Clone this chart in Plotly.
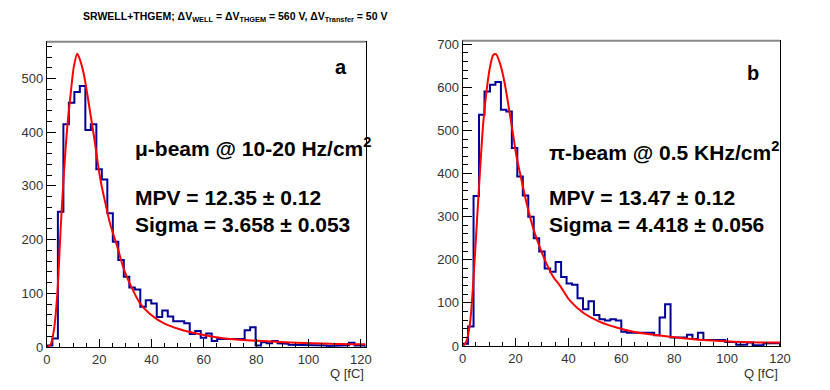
import numpy as np
import plotly.graph_objects as go

# ---------------- data ----------------
# Left panel (mu-beam): 58 bins of width 2.1 fC starting at 0
left_bin_width = 2.1
left_counts = [3, 16, 252, 415, 455, 475, 486, 404, 415, 331,
               312, 249, 196, 162, 131, 111, 107, 75, 87, 81,
               56, 68, 57, 48, 48, 44, 24, 30, 17, 25,
               11, 15, 15, 15, 15, 15, 31, 37, 3, 9,
               7, 11, 7, 6, 4, 4, 3, 4, 3, 3,
               3, 2, 3, 2, 3, 8, 3, 3]
left_fit_q = [0.3, 1.5, 2.7, 4.0, 5.3, 6.5, 7.8, 9.1, 10.3, 11.6, 12.9, 14.2, 15.4,
              16.7, 18.0, 19.3, 20.5, 21.8, 24.3, 26.9, 29.4, 32.0, 35.5, 39.3,
              44.4, 50.8, 57.2, 63.5, 69.9, 82.6, 95.3, 108.0, 121.8]
left_fit_v = [0, 5, 32, 100, 224, 323, 410, 472, 522, 546, 531, 506, 472,
              432, 392, 348, 311, 280, 227, 187, 145, 115, 82, 62,
              45, 33, 25, 19, 15, 11, 8, 6, 5]

# Right panel (pi-beam): 58 bins over 0-120 fC
right_bin_width = 120 / 58
right_counts = [5, 45, 348, 536, 590, 606, 612, 548, 544, 459,
                393, 349, 300, 250, 219, 180, 172, 195, 160, 145,
                142, 111, 85, 104, 72, 62, 59, 62, 59, 33,
                31, 31, 31, 31, 31, 25, 66, 97, 20, 20,
                20, 26, 16, 31, 14, 14, 14, 14, 9, 9,
                3, 3, 8, 2, 2, 6, 6, 7]
right_fit_q = [0.3, 1.5, 2.8, 4.0, 5.3, 6.6, 7.8, 9.1, 10.4, 11.6, 12.6, 14.1, 15.4,
               16.7, 17.9, 19.2, 20.4, 21.7, 24.2, 26.7, 29.3, 31.8, 34.3, 36.8,
               40.6, 45.6, 51.9, 58.2, 64.5, 70.8, 83.4, 96.0, 108.6, 120.0]
right_fit_v = [0, 12, 53, 145, 277, 408, 517, 594, 648, 675, 677, 656, 625,
               582, 536, 486, 439, 401, 331, 273, 227, 190, 160, 140,
               105, 77, 56, 43, 33, 27, 18, 12, 8.5, 8]

title_text = ("<b>SRWELL+THGEM; ΔV<sub>WELL</sub> = ΔV<sub>THGEM</sub> = 560 V, "
              "ΔV<sub>Transfer</sub> = 50 V</b>")
left_labels = ["<b>μ-beam @ 10-20 Hz/cm<sup>2</sup></b>",
               "<b>MPV = 12.35 ± 0.12</b>",
               "<b>Sigma = 3.658 ± 0.053</b>"]
right_labels = ["<b>π-beam @ 0.5 KHz/cm<sup>2</sup></b>",
                "<b>MPV = 13.47 ± 0.12</b>",
                "<b>Sigma = 4.418 ± 0.056</b>"]
x_title = "Q [fC]"

# ---------------- figure ----------------
W, H = 830, 390
FONT = "Liberation Sans, Arial, Helvetica, sans-serif"
HIST_COLOR = "#000099"
FIT_COLOR = "#ff0000"


def step_xy(counts, width):
    n = len(counts)
    edges = np.arange(n + 1) * width
    xs = [edges[0]]
    ys = [0]
    for i, c in enumerate(counts):
        xs += [edges[i], edges[i + 1]]
        ys += [c, c]
    xs.append(edges[-1])
    ys.append(0)
    return xs, ys


fig = go.Figure()

lx, ly = step_xy(left_counts, left_bin_width)
rx, ry = step_xy(right_counts, right_bin_width)

fig.add_trace(go.Scatter(x=lx, y=ly, mode="lines", line=dict(color=HIST_COLOR, width=2),
                         xaxis="x", yaxis="y", hoverinfo="skip"))
fig.add_trace(go.Scatter(x=left_fit_q, y=left_fit_v, mode="lines",
                         line=dict(color=FIT_COLOR, width=2, shape="spline", smoothing=0.8),
                         xaxis="x", yaxis="y", hoverinfo="skip"))
fig.add_trace(go.Scatter(x=rx, y=ry, mode="lines", line=dict(color=HIST_COLOR, width=2),
                         xaxis="x2", yaxis="y2", hoverinfo="skip"))
fig.add_trace(go.Scatter(x=right_fit_q, y=right_fit_v, mode="lines",
                         line=dict(color=FIT_COLOR, width=2, shape="spline", smoothing=0.8),
                         xaxis="x2", yaxis="y2", hoverinfo="skip"))


def px2paper(px, py):
    return px / W, 1 - py / H


L_x0, L_x1, L_yb, L_yt = 46.9, 365.5, 347.0, 41.7
R_x0, R_x1, R_yb, R_yt = 462.6, 780.0, 346.0, 40.7

axis_common = dict(showgrid=False, zeroline=False, showline=True, linecolor="black",
                   linewidth=1, mirror=True, ticks="inside", tickcolor="black",
                   automargin=False,
                   tickfont=dict(family=FONT, size=13, color="#333333"))

fig.update_layout(
    width=W, height=H, margin=dict(l=0, r=0, t=0, b=0, autoexpand=False),
    paper_bgcolor="white", plot_bgcolor="white", showlegend=False,
    font=dict(family=FONT),
    xaxis=dict(domain=[L_x0 / W, L_x1 / W], range=[0, left_bin_width * len(left_counts)],
               anchor="y", tickvals=[0, 20, 40, 60, 80, 100, 120], ticklen=8,
               minor=dict(dtick=5, tick0=0, ticks="inside", ticklen=4, tickcolor="black"),
               **axis_common),
    yaxis=dict(domain=[1 - L_yb / H, 1 - L_yt / H], range=[0, 568.5], anchor="x",
               dtick=100, ticklen=9,
               minor=dict(dtick=20, tick0=0, ticks="inside", ticklen=5, tickcolor="black"),
               **axis_common),
    xaxis2=dict(domain=[R_x0 / W, R_x1 / W], range=[0, 120], anchor="y2",
                tickvals=[0, 20, 40, 60, 80, 100, 120], ticklen=8,
                minor=dict(dtick=5, tick0=0, ticks="inside", ticklen=4, tickcolor="black"),
                **axis_common),
    yaxis2=dict(domain=[1 - R_yb / H, 1 - R_yt / H], range=[0, 708], anchor="x2",
                dtick=100, ticklen=9,
                minor=dict(dtick=20, tick0=0, ticks="inside", ticklen=5, tickcolor="black"),
                **axis_common),
)

# gray top frame lines
for (x0, x1, yt) in [(L_x0, L_x1, L_yt), (R_x0, R_x1, R_yt)]:
    a0, b0 = px2paper(x0, yt)
    a1, _ = px2paper(x1, yt)
    fig.add_shape(type="line", xref="paper", yref="paper", x0=a0, x1=a1, y0=b0, y1=b0,
                  line=dict(color="#888888", width=2))

annots = []


def add_text(text, px, py, size, xanchor="left", color="black"):
    x, y = px2paper(px, py)
    annots.append(dict(text=text, x=x, y=y, xref="paper", yref="paper", showarrow=False,
                       xanchor=xanchor, yanchor="middle",
                       font=dict(family=FONT, size=size, color=color)))


add_text(title_text, 235, 17, 10.5, xanchor="center")
add_text("<b>a</b>", 341, 67, 20, xanchor="center")
add_text("<b>b</b>", 753, 73, 20, xanchor="center")
for txt, py in zip(left_labels, [147, 197, 225]):
    add_text(txt, 133, py, 21)
for txt, py in zip(right_labels, [151, 197, 225]):
    add_text(txt, 547, py, 21)
add_text(x_title, L_x1, 373, 13, xanchor="right", color="#333333")
add_text(x_title, R_x1, 373, 13, xanchor="right", color="#333333")

fig.update_layout(annotations=annots)
fig.write_html("out.html", config={"displayModeBar": False, "staticPlot": True},
               post_script="document.body.style.margin='0px';document.body.style.padding='0px';")
